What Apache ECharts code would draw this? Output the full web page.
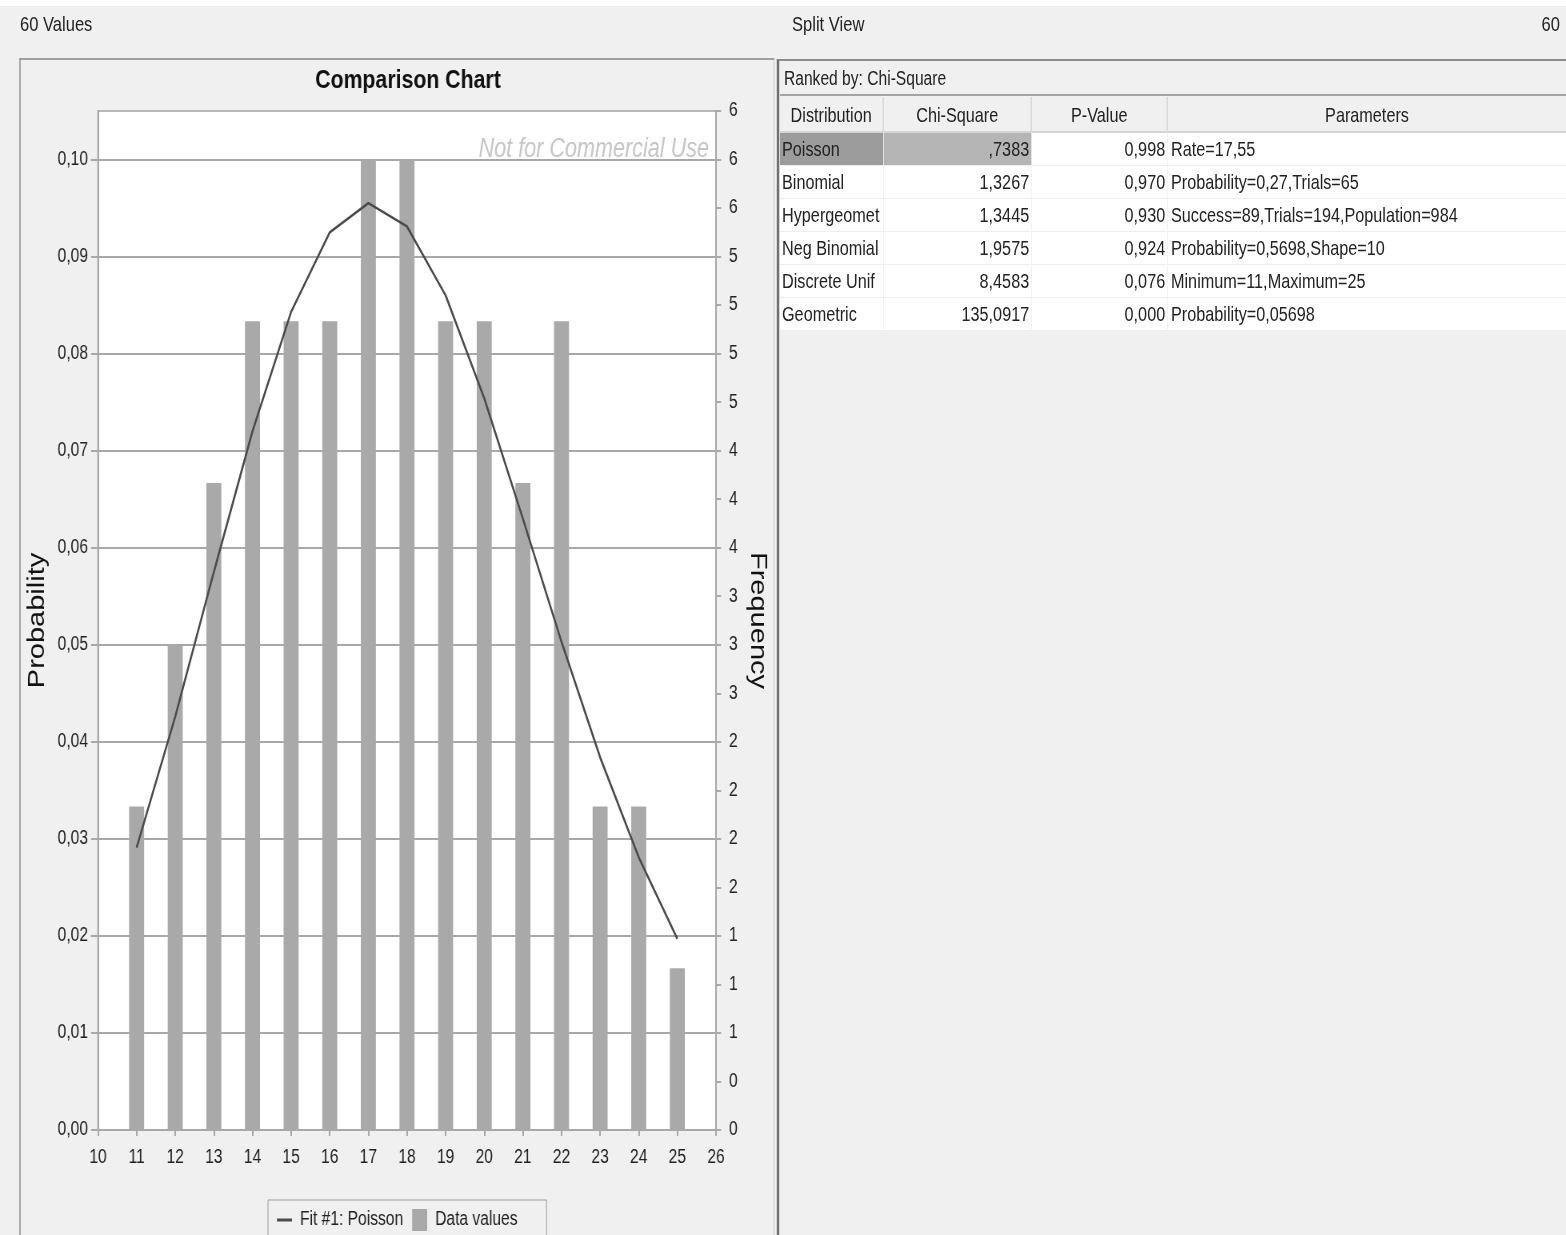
<!DOCTYPE html>
<html>
<head>
<meta charset="utf-8">
<script src="https://cdn.jsdelivr.net/npm/echarts@6/dist/echarts.min.js"></script>
<style>
  html, body { margin:0; padding:0; }
  body { width:1566px; height:1235px; background:#f0f0f0; position:relative; overflow:hidden; }
  #page { position:absolute; left:0; top:0; width:1957.5px; height:1235px; transform:scaleX(0.8); transform-origin:0 0;
          font-family:'Liberation Sans',Arimo,Arial,sans-serif; color:#222; }
  .abs { position:absolute; box-sizing:border-box; }
  .cell { position:absolute; white-space:nowrap; overflow:hidden; box-sizing:border-box; font-size:20.3px; }
</style>
</head>
<body>
<div id="page">
  <div id="chart" class="abs"></div>
</div>
<script>
// ---- chart data ----
const xValues = [11, 12, 13, 14, 15, 16, 17, 18, 19, 20, 21, 22, 23, 24, 25];
const frequency = [2, 3, 4, 5, 5, 5, 6, 6, 5, 5, 4, 5, 2, 2, 1];
const poissonProb = [0.0291, 0.0426, 0.0575, 0.0720, 0.0843, 0.0925, 0.0955, 0.0931, 0.0860, 0.0754, 0.0630, 0.0503, 0.0384, 0.0281, 0.0197];
const probTicks = [0, 0.01, 0.02, 0.03, 0.04, 0.05, 0.06, 0.07, 0.08, 0.09, 0.10];

// ---- table data ----
const tableHeaders = ['Distribution', 'Chi-Square', 'P-Value', 'Parameters'];
const distributions = ['Poisson', 'Binomial', 'Hypergeomet', 'Neg Binomial', 'Discrete Unif', 'Geometric'];
const chiSquare = [',7383', '1,3267', '1,3445', '1,9575', '8,4583', '135,0917'];
const pValues = ['0,998', '0,970', '0,930', '0,924', '0,076', '0,000'];
const parameters = ['Rate=17,55', 'Probability=0,27,Trials=65', 'Success=89,Trials=194,Population=984', 'Probability=0,5698,Shape=10', 'Minimum=11,Maximum=25', 'Probability=0,05698'];

// everything inside #page is drawn in a frame squeezed horizontally by S
const S = 0.8;
const X = v => v / S;
const page = document.getElementById('page');

function box(x, y, w, h, style, text) {
  const d = document.createElement('div');
  d.className = text === undefined ? 'abs' : 'cell';
  Object.assign(d.style, { left: X(x) + 'px', top: y + 'px', width: X(w) + 'px', height: h + 'px' }, style || {});
  if (text !== undefined) { d.textContent = text; d.style.lineHeight = h + 'px'; }
  page.insertBefore(d, document.getElementById('chart'));
  return d;
}

(function buildFrame() {
  box(0, 0, 1566, 6, { background: '#fff' });
  box(20, 12, 200, 24, { fontSize: '20.7px' }, '60 Values');
  box(792, 12, 200, 24, { fontSize: '20.7px' }, 'Split View');
  box(1366, 12, 194, 24, { fontSize: '20.7px', textAlign: 'right' }, '60');
  // left panel frame
  box(19, 58, 755, 1180, { borderTop: '2px solid #a0a0a0', borderLeft: X(2) + 'px solid #a0a0a0', borderRight: X(1) + 'px solid #c8c8c8' });
  // right panel frame
  box(777, 59, 789, 1180, { borderLeft: X(3) + 'px solid #707070', borderTop: '2px solid #8c8c8c', background: '#f0f0f0' });
  // ranked by row
  box(780, 61, 786, 35, { borderBottom: '2px solid #a4a4a4', paddingLeft: X(4) + 'px', fontSize: '19.5px' }, 'Ranked by: Chi-Square');
  const cols = [780, 884, 1032, 1168, 1566];
  for (let c = 0; c < 4; c++) {
    box(cols[c], 97, cols[c + 1] - cols[c], 36, {
      textAlign: 'center', background: '#f0f0f0',
      borderRight: c < 3 ? X(2) + 'px solid #dadada' : 'none', borderBottom: '2px solid #d4d4d4'
    }, tableHeaders[c]);
  }
  for (let r = 0; r < distributions.length; r++) {
    const top = 133 + r * 33;
    const vals = [distributions[r], chiSquare[r], pValues[r], parameters[r]];
    for (let c = 0; c < 4; c++) {
      let bg = '#ffffff';
      if (r === 0 && c === 0) bg = '#9c9c9c';
      if (r === 0 && c === 1) bg = '#b5b5b5';
      box(cols[c], top, cols[c + 1] - cols[c], 33, {
        background: bg,
        textAlign: (c === 1 || c === 2) ? 'right' : 'left',
        paddingLeft: c === 3 ? X(3) + 'px' : (c === 0 ? X(2) + 'px' : '0px'),
        paddingRight: (c === 1 || c === 2) ? X(2) + 'px' : '0px',
        borderRight: c < 3 ? X(1) + 'px solid #f0f0f0' : 'none', borderBottom: '1px solid #eeeeee'
      }, vals[c]);
    }
  }
})();

// ---- chart ----
const chartDiv = document.getElementById('chart');
Object.assign(chartDiv.style, { left: '0px', top: '0px', width: X(776) + 'px', height: '1235px' });
const FONT = "'Liberation Sans',Arimo,Arial,sans-serif";
const chart = echarts.init(chartDiv, null, { renderer: 'canvas' });
const axisGray = '#a8a8a8';
const option = {
  animation: false,
  backgroundColor: 'transparent',
  textStyle: { fontFamily: FONT, color: '#222' },
  grid: { left: X(98), right: X(776) - X(716), top: 111, bottom: 105, show: true,
          backgroundColor: '#ffffff', borderColor: '#b8b8b8', borderWidth: 2, outerBoundsMode: 'none', containLabel: false },
  graphic: [
    { type: 'text', x: X(408), y: 81, style: { text: 'Comparison Chart', fontFamily: FONT, fontSize: 26.6, fontWeight: 'bold', fill: '#111', align: 'center', verticalAlign: 'middle' } },
    { type: 'text', x: X(709), y: 149, z: 1, style: { text: 'Not for Commercial Use', fontFamily: FONT, fontSize: 27, fontStyle: 'italic', fill: '#c6c6c6', align: 'right', verticalAlign: 'middle' } }
  ],
  legend: {
    left: X(268), top: 1200,
    padding: [9, X(29), 14, X(9)],
    borderColor: '#9a9a9a', borderWidth: 1, borderRadius: 0,
    backgroundColor: '#f0f0f0',
    itemWidth: X(15), itemHeight: 22, itemGap: X(9),
    textStyle: { fontFamily: FONT, fontSize: 19.5, color: '#222', padding: [0, 0, 0, X(4)] },
    data: [
      { name: 'Fit #1: Poisson', icon: 'path://M0,0L0,0M0,9.5L18.75,9.5L18.75,12.5L0,12.5ZM18.75,22L18.75,22', itemStyle: { color: '#4a4a4a' } },
      { name: 'Data values', icon: 'rect', itemStyle: { color: '#a9a9a9' } }
    ]
  },
  xAxis: {
    type: 'value', min: 10, max: 26, interval: 1,
    axisLine: { show: true, lineStyle: { color: axisGray, width: 2 } },
    axisTick: { show: true, length: 6, lineStyle: { color: axisGray, width: 2 } },
    axisLabel: { fontFamily: FONT, fontSize: 19.5, color: '#222', margin: 18 },
    splitLine: { show: false }
  },
  yAxis: [
    {
      type: 'value', min: 0, max: 0.105, interval: 0.01, position: 'left',
      name: 'Probability', nameLocation: 'middle', nameRotate: 90, nameGap: 52,
      nameTextStyle: { fontFamily: FONT, fontSize: 29, color: '#111' },
      axisLine: { show: true, lineStyle: { color: axisGray, width: 2 } },
      axisTick: { show: true, length: X(7), lineStyle: { color: axisGray, width: 2 }, customValues: probTicks },
      axisLabel: { fontFamily: FONT, fontSize: 19.5, color: '#222', margin: X(10), customValues: probTicks,
        formatter: v => v.toFixed(2).replace('.', ',') },
      splitLine: { show: true, lineStyle: { color: '#a8a8a8', width: 2 } }
    },
    {
      type: 'value', min: 0, max: 6.3, interval: 0.3, position: 'right',
      name: 'Frequency', nameLocation: 'middle', nameRotate: -90, nameGap: 22,
      nameTextStyle: { fontFamily: FONT, fontSize: 29, color: '#111' },
      axisLine: { show: true, lineStyle: { color: axisGray, width: 2 } },
      axisTick: { show: true, length: X(5), lineStyle: { color: axisGray, width: 2 } },
      axisLabel: { fontFamily: FONT, fontSize: 19.5, color: '#222', margin: X(13),
        formatter: v => String(Math.round(v)) },
      splitLine: { show: false }
    }
  ],
  series: [
    {
      name: 'Fit #1: Poisson', type: 'line', yAxisIndex: 0, z: 5,
      symbol: 'none', smooth: false,
      lineStyle: { color: '#4a4a4a', width: 2.5 }, itemStyle: { color: '#4a4a4a' },
      data: xValues.map((x, i) => [x, poissonProb[i]])
    },
    {
      name: 'Data values', type: 'bar', yAxisIndex: 1, z: 2,
      barWidth: X(15),
      itemStyle: { color: '#a9a9a9' },
      data: xValues.map((x, i) => [x, frequency[i]])
    }
  ]
};
chart.setOption(option);
</script>
</body>
</html>
